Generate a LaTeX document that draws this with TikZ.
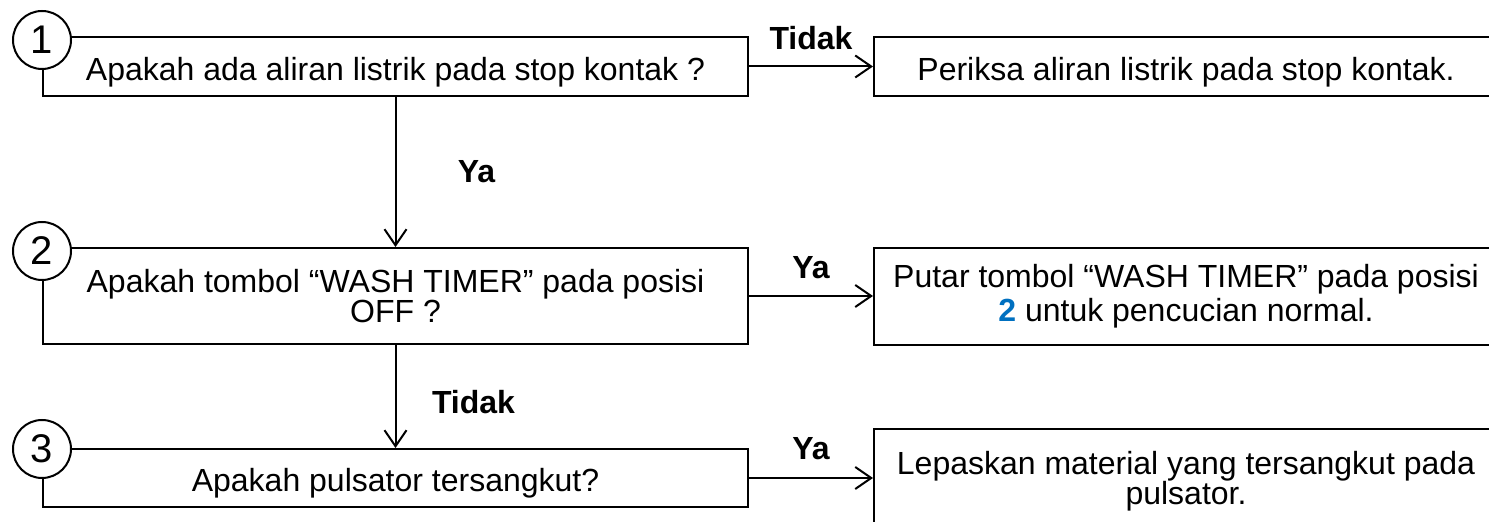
\documentclass[tikz,border=0pt]{standalone}
\usepackage{fontspec}
\setmainfont{Liberation Sans}
\usepackage{xcolor}
\usepackage{tikz}
\usetikzlibrary{arrows.meta}
\definecolor{numblue}{RGB}{0,112,192}
\tikzset{box/.style={draw, rectangle, line width=1pt, inner sep=0pt, align=center, font=\fontsize{16}{15}\selectfont}}
\tikzset{num/.style={draw, circle, fill=white, line width=1pt, minimum size=29pt, inner sep=0pt, font=\fontsize{20}{20}\selectfont}}
\tikzset{lbl/.style={inner sep=0pt, font=\fontsize{16}{16}\selectfont\bfseries}}
\tikzset{arr/.style={line width=1pt, -{Straight Barb[length=8pt, width=11pt]}}}

\begin{document}
\begin{tikzpicture}[x=0.5pt, y=-0.5pt, line join=miter]
		\useasboundingbox (0,0) rectangle (1489,522);
		\node[box, minimum width=352.5pt, minimum height=29.5pt, text height=14pt, text depth=0pt] (q1) at (395.5,66.5) {Apakah ada aliran listrik pada stop kontak ?};
		\node[box, minimum width=312pt, minimum height=29.5pt, text height=14pt, text depth=0pt] (a1) at (1186,66.5) {Periksa aliran listrik pada stop kontak.};
		\node[box, minimum width=352.5pt, minimum height=48pt] (q2) at (395.5,296) {Apakah tombol “WASH TIMER” pada posisi\\OFF ?};
		\node[box, minimum width=312pt, minimum height=48.5pt, font=\fontsize{16}{17}\selectfont] (a2) at (1186,296.5) {Putar tombol “WASH TIMER” pada posisi\\{\color{numblue}\bfseries 2} untuk pencucian normal.};
		\node[box, minimum width=352.5pt, minimum height=29pt, text height=14pt, text depth=0pt] (q3) at (395.5,478) {Apakah pulsator tersangkut?};
		\node[box, minimum width=312pt, minimum height=52pt] (a3) at (1186,481) {Lepaskan material yang tersangkut pada\\pulsator.};
		\node[num] (n1) at (42,40) {1};
		\node[num] (n2) at (42,251) {2};
		\node[num] (n3) at (42,449) {3};
		\draw[arr] (q1.east) -- (q1.east -| a1.west) node[lbl, midway, yshift=14pt] (t1) {Tidak};
		\draw[arr] (q1.south) -- (q2.north) node[lbl, midway, xshift=40.5pt] (y1) {Ya};
		\draw[arr] (q2.east) -- (q2.east -| a2.west) node[lbl, midway, yshift=14pt] (y2) {Ya};
		\draw[arr] (q2.south) -- (q3.north) node[lbl, midway, xshift=39pt, yshift=-3pt] (t2) {Tidak};
		\draw[arr] (q3.east) -- (q3.east -| a3.west) node[lbl, midway, yshift=14.5pt] (y3) {Ya};
	\end{tikzpicture}
\end{document}
